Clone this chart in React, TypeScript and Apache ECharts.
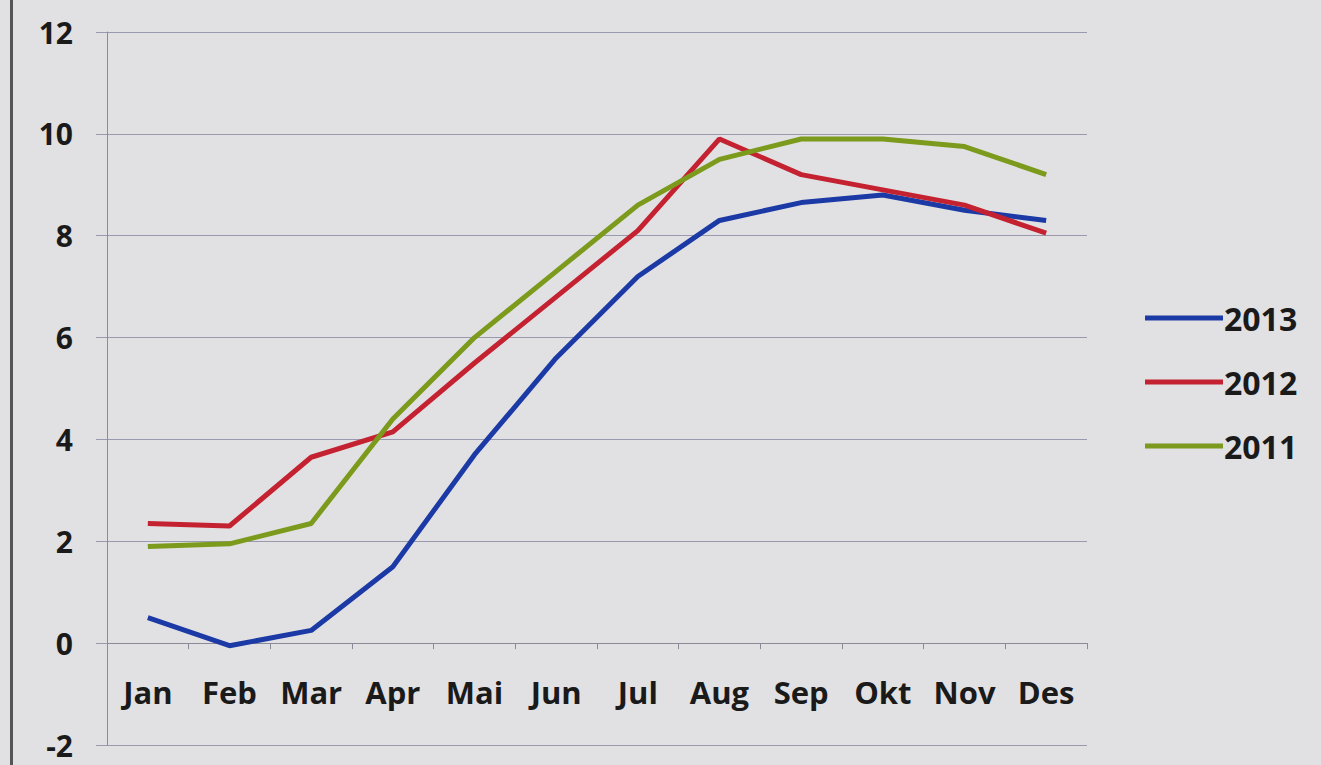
import React, { useEffect, useRef } from "react";
import * as echarts from "echarts";

const months = ["Jan", "Feb", "Mar", "Apr", "Mai", "Jun", "Jul", "Aug", "Sep", "Okt", "Nov", "Des"];
const s2013 = [0.5, -0.05, 0.25, 1.5, 3.7, 5.6, 7.2, 8.3, 8.65, 8.8, 8.5, 8.3];
const s2012 = [2.35, 2.3, 3.65, 4.15, 5.5, 6.8, 8.1, 9.9, 9.2, 8.9, 8.6, 8.05];
const s2011 = [1.9, 1.95, 2.35, 4.4, 6.0, 7.3, 8.6, 9.5, 9.9, 9.9, 9.75, 9.2];
const seriesNames = ["2013", "2012", "2011"];
const seriesColors = ["#1c3aa6", "#c42230", "#7c9a1c"];

export default function App() {
  const ref = useRef<HTMLDivElement>(null);
  useEffect(() => {
    document.body.style.margin = "0";
    const chart = echarts.init(ref.current!, null, { renderer: "svg" });
    const font = "'Open Sans', Lato, sans-serif";
    const data = [s2013, s2012, s2011];
    chart.setOption({
      animation: false,
      backgroundColor: "#e1e1e3",
      grid: { left: 107, right: 234, top: 32, bottom: 20, containLabel: false, outerBoundsMode: "none" },
      legend: {
        orient: "vertical",
        left: 1140,
        top: 297,
        itemWidth: 78,
        itemHeight: 5,
        itemGap: 32,
        icon: "rect",
        data: seriesNames,
        textStyle: { fontFamily: font, fontWeight: "bold", fontSize: 32, color: "#1a1a1a", padding: [0, 0, 0, -4] },
      },
      xAxis: [
        {
          type: "category",
          data: months,
          boundaryGap: true,
          position: "bottom",
          axisLine: { show: false, onZero: false },
          axisTick: { show: false },
          axisLabel: { margin: -69, interval: 0, fontFamily: font, fontWeight: "bold", fontSize: 31, color: "#1a1a1a" },
          splitLine: { show: false },
        },
        {
          type: "category",
          data: months,
          boundaryGap: true,
          position: "bottom",
          axisLine: { show: true, onZero: true, lineStyle: { color: "#8a8a98", width: 1 } },
          axisTick: { show: true, interval: 0, length: 6, lineStyle: { color: "#8a8a98" } },
          axisLabel: { show: false },
          splitLine: { show: false },
        },
      ],
      yAxis: {
        type: "value",
        min: -2,
        max: 12,
        interval: 2,
        axisLine: { show: true, lineStyle: { color: "#8a8a98", width: 1 } },
        axisTick: { show: true, length: 11, lineStyle: { color: "#9a9aae" } },
        axisLabel: { margin: 34, fontFamily: font, fontWeight: "bold", fontSize: 30, color: "#1a1a1a" },
        splitLine: { show: true, lineStyle: { color: "#9a9aae", width: 1 } },
      },
      graphic: [
        { type: "rect", shape: { x: 10, y: 0, width: 3, height: 765 }, style: { fill: "#555" } },
      ],
      series: data.map((d, i) => ({
        name: seriesNames[i],
        type: "line",
        data: d,
        symbol: "none",
        lineStyle: { color: seriesColors[i], width: 5 },
        itemStyle: { color: seriesColors[i] },
      })),
    });
    return () => chart.dispose();
  }, []);
  return <div ref={ref} style={{ width: 1321, height: 765 }} />;
}
